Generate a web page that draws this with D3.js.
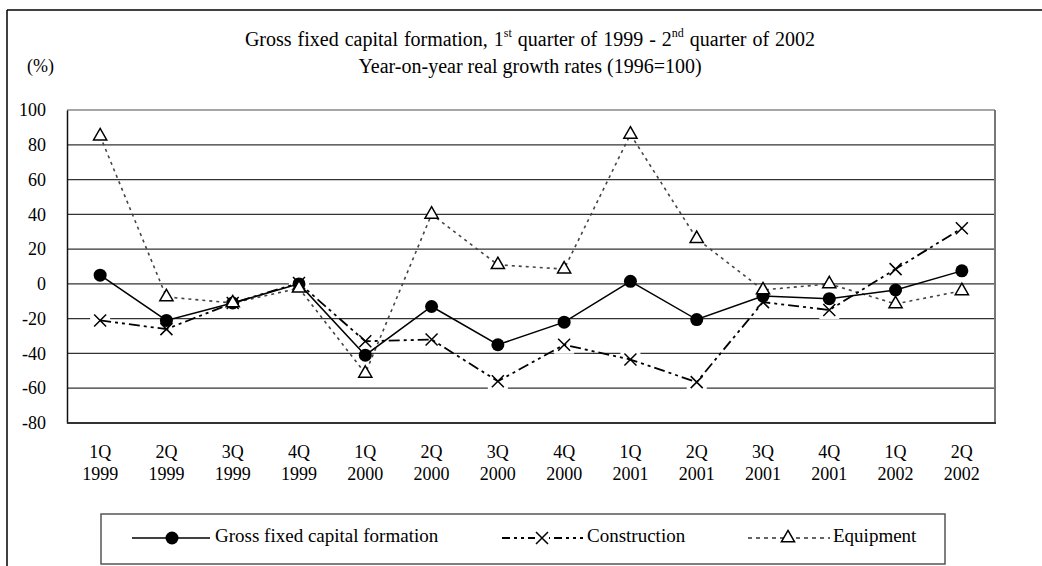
<!DOCTYPE html>
<html><head><meta charset="utf-8">
<script src="https://cdn.jsdelivr.net/npm/d3@7"></script>
<style>
html,body{margin:0;padding:0;background:#fff;}
svg{display:block;font-family:"Liberation Serif","Times New Roman",serif;}
</style></head>
<body>
<svg id="chart" width="1042" height="566"></svg>
<script>
const quarters = ["1Q","2Q","3Q","4Q","1Q","2Q","3Q","4Q","1Q","2Q","3Q","4Q","1Q","2Q"];
const years = ["1999","1999","1999","1999","2000","2000","2000","2000","2001","2001","2001","2001","2002","2002"];
const gfcf = [5, -21, -11, 0, -41, -13, -35, -22, 1.5, -20.5, -7, -8.5, -3.5, 7.5];
const construction = [-21, -26, -11, 0.5, -33, -32, -56, -35, -43.5, -56.5, -10.5, -15, 8.5, 32];
const equipment = [85, -7.5, -11, -2.5, -51.5, 40, 11, 8.5, 86, 26, -3.5, 0, -11.5, -4];
const yTicks = [-80, -60, -40, -20, 0, 20, 40, 60, 80, 100];
const seriesNames = ["Gross fixed capital formation", "Construction", "Equipment"];

const svg = d3.select("#chart");
const cats = quarters.map((q, i) => i);
const x = d3.scaleBand().domain(cats).range([67, 995]).padding(0);
const y = d3.scaleLinear().domain([-80, 100]).range([423, 110]);
const cx = i => x(i) + x.bandwidth() / 2;

// outer frame
svg.append("line").attr("x1", 7).attr("y1", 10).attr("x2", 1042).attr("y2", 10).attr("stroke", "#000").attr("stroke-width", 1.5);
svg.append("line").attr("x1", 7).attr("y1", 10).attr("x2", 7).attr("y2", 566).attr("stroke", "#000").attr("stroke-width", 1.5);

// titles
const t1 = svg.append("text").attr("x", 530).attr("y", 46).attr("text-anchor", "middle").attr("font-size", 20).attr("word-spacing", 1);
t1.append("tspan").text("Gross fixed capital formation, 1");
t1.append("tspan").attr("font-size", 12).attr("dy", -9).text("st");
t1.append("tspan").attr("dy", 9).text(" quarter of 1999 - 2");
t1.append("tspan").attr("font-size", 12).attr("dy", -9).text("nd");
t1.append("tspan").attr("dy", 9).text(" quarter of 2002");
svg.append("text").attr("x", 530).attr("y", 73).attr("text-anchor", "middle").attr("font-size", 20).text("Year-on-year real growth rates (1996=100)");
svg.append("text").attr("x", 27).attr("y", 72).attr("font-size", 18).text("(%)");

// gridlines
svg.append("g").selectAll("line").data(yTicks.filter(v => v > -80 && v < 100)).join("line")
  .attr("x1", 67).attr("x2", 995).attr("y1", d => y(d)).attr("y2", d => y(d))
  .attr("stroke", "#333").attr("stroke-width", 1.3);
// top & right border
svg.append("line").attr("x1", 67).attr("x2", 995).attr("y1", y(100)).attr("y2", y(100)).attr("stroke", "#888").attr("stroke-width", 1.3);
svg.append("line").attr("x1", 995).attr("x2", 995).attr("y1", y(100)).attr("y2", y(-80)).attr("stroke", "#777").attr("stroke-width", 2);

// y axis
const yAxis = d3.axisLeft(y).tickValues(yTicks).tickSize(0).tickPadding(21).tickFormat(d => String(d));
const ga = svg.append("g").attr("transform", "translate(67,0)").call(yAxis);
ga.select(".domain").attr("stroke", "#111").attr("stroke-width", 1.5);
ga.selectAll("text").attr("font-size", 18).attr("font-family", "Liberation Serif").attr("fill", "#000");

// bottom axis line
svg.append("line").attr("x1", 67).attr("x2", 996).attr("y1", y(-80)).attr("y2", y(-80)).attr("stroke", "#333").attr("stroke-width", 2.2);

// x labels
const xl = svg.append("g");
xl.selectAll("text.q").data(quarters).join("text").attr("class", "q")
  .attr("x", (d, i) => cx(i)).attr("y", 458).attr("text-anchor", "middle").attr("font-size", 18).text(d => d);
xl.selectAll("text.yr").data(years).join("text").attr("class", "yr")
  .attr("x", (d, i) => cx(i)).attr("y", 480).attr("text-anchor", "middle").attr("font-size", 18).text(d => d);

// white backgrounds behind X markers (gaps in gridlines)
svg.append("g").selectAll("rect").data(construction).join("rect")
  .attr("x", (d, i) => cx(i) - 10).attr("y", d => y(d) - 9).attr("width", 20).attr("height", 18).attr("fill", "#fff");

const line = d3.line().x((d, i) => cx(i)).y(d => y(d));
svg.append("path").datum(equipment).attr("d", line).attr("fill", "none").attr("stroke", "#444").attr("stroke-width", 1.6).attr("stroke-dasharray", "3,4");
svg.append("path").datum(construction).attr("d", line).attr("fill", "none").attr("stroke", "#000").attr("stroke-width", 1.8).attr("stroke-dasharray", "11,4,3,4,3,4");
svg.append("path").datum(gfcf).attr("d", line).attr("fill", "none").attr("stroke", "#000").attr("stroke-width", 1.5);

const tri = d3.symbol().type(d3.symbolTriangle).size(75);
function xMark(g, px, py) {
  g.append("path").attr("d", `M${px-6},${py-6}L${px+6},${py+6}M${px+6},${py-6}L${px-6},${py+6}`).attr("stroke", "#000").attr("stroke-width", 1.5).attr("fill", "none");
}
// markers
svg.append("g").selectAll("circle").data(gfcf).join("circle")
  .attr("cx", (d, i) => cx(i)).attr("cy", d => y(d)).attr("r", 6.5).attr("fill", "#000");
const gx = svg.append("g");
construction.forEach((d, i) => xMark(gx, cx(i), y(d)));
svg.append("g").selectAll("path").data(equipment).join("path")
  .attr("d", tri).attr("transform", (d, i) => `translate(${cx(i)},${y(d)})`)
  .attr("fill", "#fff").attr("stroke", "#000").attr("stroke-width", 1.5);

// legend
const lg = svg.append("g");
lg.append("rect").attr("x", 101).attr("y", 514).attr("width", 844).attr("height", 50).attr("fill", "#fff").attr("stroke", "#555").attr("stroke-width", 1.5);
const ly = 538;
lg.append("line").attr("x1", 132).attr("x2", 210).attr("y1", ly).attr("y2", ly).attr("stroke", "#000").attr("stroke-width", 1.5);
lg.append("circle").attr("cx", 172).attr("cy", ly).attr("r", 6.5).attr("fill", "#000");
lg.append("text").attr("x", 215).attr("y", 542).attr("font-size", 19).text(seriesNames[0]);
lg.append("line").attr("x1", 502).attr("x2", 583).attr("y1", ly).attr("y2", ly).attr("stroke", "#000").attr("stroke-width", 1.8).attr("stroke-dasharray", "8,4,3,4,3,4");
lg.append("rect").attr("x", 535).attr("y", ly - 7).attr("width", 14).attr("height", 14).attr("fill", "#fff");
xMark(lg, 542, ly);
lg.append("text").attr("x", 587).attr("y", 542).attr("font-size", 19).text(seriesNames[1]);
lg.append("line").attr("x1", 748).attr("x2", 830).attr("y1", ly).attr("y2", ly).attr("stroke", "#333").attr("stroke-width", 1.6).attr("stroke-dasharray", "4,4");
lg.append("path").attr("d", tri).attr("transform", `translate(788,${ly})`).attr("fill", "#fff").attr("stroke", "#000").attr("stroke-width", 1.5);
lg.append("text").attr("x", 833).attr("y", 542).attr("font-size", 19).text(seriesNames[2]);
</script>
</body></html>
